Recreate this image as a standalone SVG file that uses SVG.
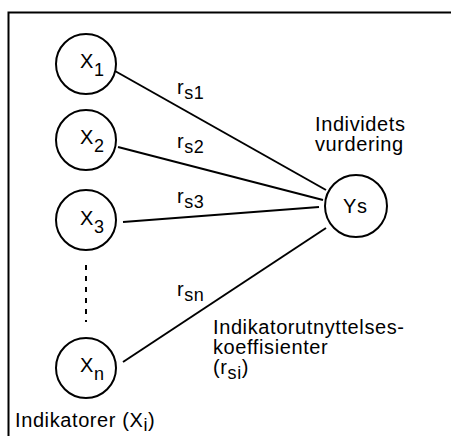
<svg xmlns="http://www.w3.org/2000/svg" width="451" height="436" viewBox="0 0 451 436">
<style>
.t{font-family:"Liberation Sans",Arial,sans-serif;font-size:20px;fill:#000;letter-spacing:0.6px}
.s{font-size:18px}
.node circle{fill:#fff;stroke:#000;stroke-width:2}
.conn line{stroke:#000;stroke-width:2}
</style>
<rect width="451" height="436" fill="#fff"/>
<g id="frame"><path d="M8.5,440 V12.5 H460" fill="none" stroke="#000" stroke-width="2"/></g>
<g class="conn" id="connectors">
<line x1="115" y1="71" x2="326" y2="190"/>
<line x1="118" y1="147" x2="323" y2="200"/>
<line x1="123" y1="222" x2="319" y2="207"/>
<line x1="123" y1="362" x2="326" y2="228"/>
<line x1="86" y1="265" x2="86" y2="322" stroke-dasharray="5,6"/>
</g>
<g class="node" id="x1"><circle cx="86" cy="64" r="30"/><text class="t" x="80" y="68">X<tspan class="s" dy="8">1</tspan></text></g>
<g class="node" id="x2"><circle cx="86" cy="140" r="30"/><text class="t" x="80" y="144">X<tspan class="s" dy="8">2</tspan></text></g>
<g class="node" id="x3"><circle cx="86" cy="220" r="30"/><text class="t" x="80" y="225">X<tspan class="s" dy="8">3</tspan></text></g>
<g class="node" id="xn"><circle cx="86" cy="368" r="30"/><text class="t" x="80" y="372">X<tspan class="s" dy="8">n</tspan></text></g>
<g class="node" id="ys"><circle cx="356" cy="206" r="31"/><text class="t" x="343" y="213">Ys</text></g>
<g id="labels">
<text class="t" x="177" y="94">r<tspan class="s" dy="5">s1</tspan></text>
<text class="t" x="177" y="148">r<tspan class="s" dy="5">s2</tspan></text>
<text class="t" x="177" y="203">r<tspan class="s" dy="5">s3</tspan></text>
<text class="t" x="177" y="296">r<tspan class="s" dy="5">sn</tspan></text>
<text class="t" x="315" y="131">Individets</text>
<text class="t" x="315" y="151">vurdering</text>
<text class="t" x="213" y="334">Indikatorutnyttelses-</text>
<text class="t" x="213" y="354">koeffisienter</text>
<text class="t" x="213" y="374">(r<tspan class="s" dy="5">si</tspan><tspan dy="-5">)</tspan></text>
<text class="t" x="15" y="427">Indikatorer (X<tspan class="s" dy="4">i</tspan><tspan dy="-4">)</tspan></text>
</g>
</svg>
